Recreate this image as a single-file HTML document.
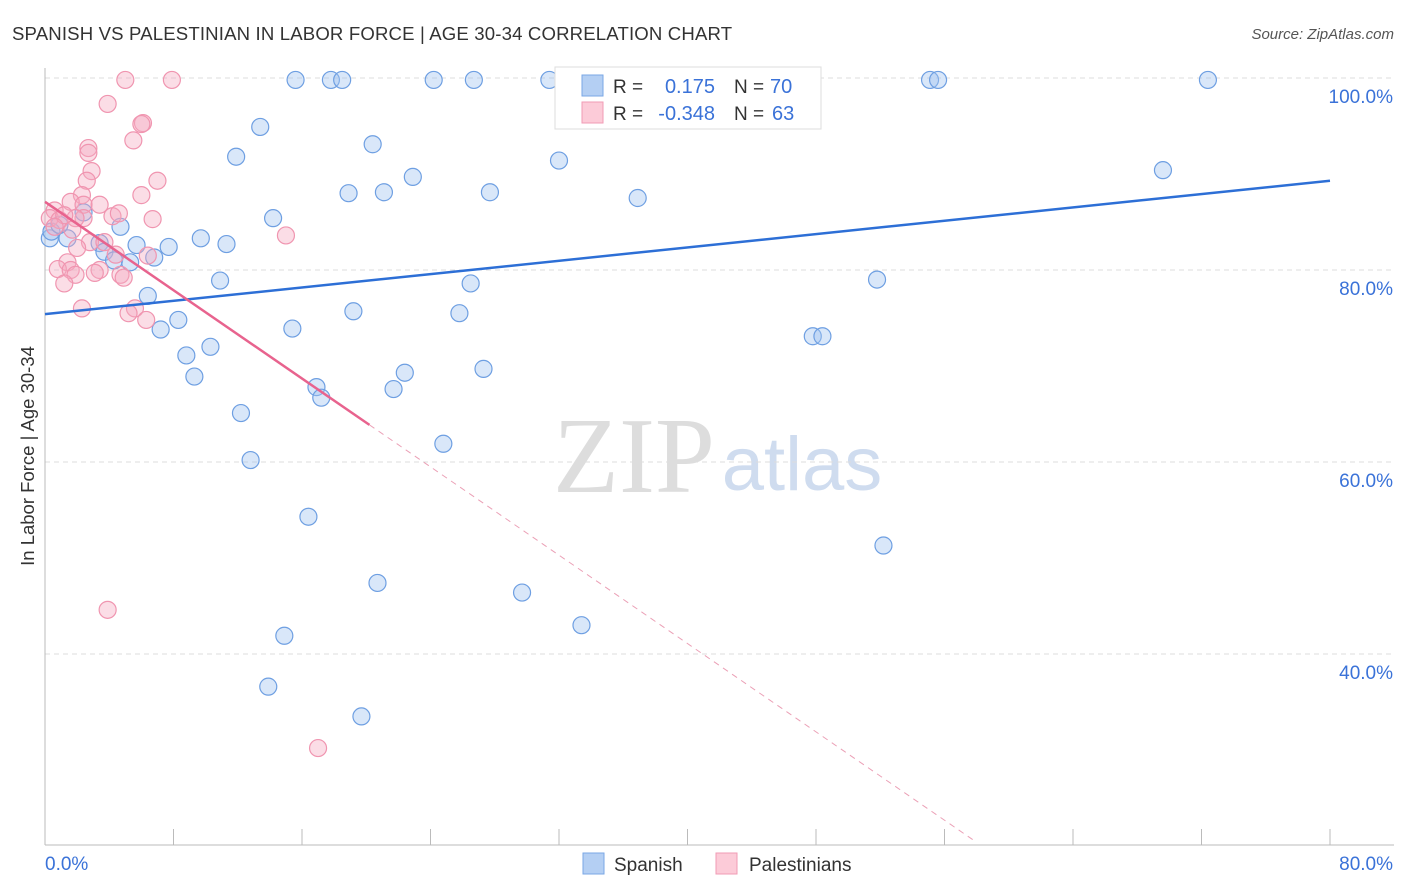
<!DOCTYPE html>
<html><head><meta charset="utf-8"><style>
body{margin:0;background:#fff;font-family:"Liberation Sans",sans-serif;}
#wrap{position:relative;width:1406px;height:892px;overflow:hidden;}
</style></head><body>
<div id="wrap">
<svg id="svg" width="1406" height="892" xmlns="http://www.w3.org/2000/svg">
<text x="12" y="40" font-size="18.6" letter-spacing="0.15" fill="#333">SPANISH VS PALESTINIAN IN LABOR FORCE | AGE 30-34 CORRELATION CHART</text>
<text x="1394" y="39" font-size="15" fill="#555" font-style="italic" text-anchor="end">Source: ZipAtlas.com</text>
<text x="34" y="456" font-size="18.5" fill="#333" text-anchor="middle" transform="rotate(-90 34 456)">In Labor Force | Age 30-34</text>
<text x="634" y="492" font-size="108" fill="#ddd" font-family="Liberation Serif,serif" text-anchor="middle">ZIP</text>
<text x="802" y="490" font-size="76" fill="#cfdcef" text-anchor="middle">atlas</text>
<g id="grid"></g><g id="pts"></g><g id="lines"></g>
<g>
<rect x="555" y="67" width="266" height="62" fill="#fff" stroke="#ddd"/>
<rect x="582" y="75" width="21" height="21" fill="#b4cff3" stroke="#7aa7e6"/>
<rect x="582" y="102" width="21" height="21" fill="#fccbd8" stroke="#f19bb5"/>
<text x="613" y="93" font-size="19" fill="#333">R =</text>
<text x="715" y="93" font-size="20" fill="#3a72d8" text-anchor="end">0.175</text>
<text x="734" y="93" font-size="19" fill="#333">N =</text>
<text x="770" y="93" font-size="20" fill="#3a72d8">70</text>
<text x="613" y="120" font-size="19" fill="#333">R =</text>
<text x="715" y="120" font-size="20" fill="#3a72d8" text-anchor="end">-0.348</text>
<text x="734" y="120" font-size="19" fill="#333">N =</text>
<text x="772" y="120" font-size="20" fill="#3a72d8">63</text>
</g>
<g>
<rect x="583" y="853" width="21" height="21" fill="#b4cff3" stroke="#7aa7e6"/>
<text x="614" y="871" font-size="19" fill="#333">Spanish</text>
<rect x="716" y="853" width="21" height="21" fill="#fccbd8" stroke="#f19bb5"/>
<text x="749" y="871" font-size="19" fill="#333">Palestinians</text>
</g>
</svg>
</div>
<script>
const xTickLabels=["0.0%","80.0%"];
const yTicks=[100,80,60,40];
const yTickLabels=["100.0%","80.0%","60.0%","40.0%"];
const spanishX=[15.6,17.8,18.5,24.2,26.7,31.4,41.9,55.1,55.6,72.4,13.4,11.9,20.4,32.0,69.6,18.9,21.1,22.9,27.7,36.9,14.2,4.7,2.4,1.4,0.3,3.4,5.7,7.7,9.7,11.3,3.7,4.3,5.3,6.8,10.9,6.4,26.5,51.8,19.2,25.8,8.3,7.2,15.4,47.8,48.4,10.3,8.8,9.3,22.4,27.3,16.9,17.2,21.7,12.2,24.8,12.8,16.4,52.2,20.7,29.7,33.4,14.9,13.9,19.7,0.4,0.9];
const spanishY=[99.8,99.8,99.8,99.8,99.8,99.8,99.8,99.8,99.8,99.8,94.9,91.8,93.1,91.4,90.4,88.0,88.1,89.7,88.1,87.5,85.4,84.5,86.0,83.3,83.3,82.8,82.6,82.4,83.3,82.7,81.9,81.0,80.8,81.3,78.9,77.3,78.6,79.0,75.7,75.5,74.8,73.8,73.9,73.1,73.1,72.0,71.1,68.9,69.3,69.7,67.8,66.7,67.6,65.1,61.9,60.2,54.3,51.3,47.4,46.4,43.0,41.9,36.6,33.5,84.0,84.7];
const palX=[5.0,7.9,3.9,6.1,6.0,5.5,2.7,2.7,2.9,2.6,7.0,6.0,2.3,1.6,2.4,3.4,6.7,4.2,4.6,2.4,0.6,0.3,0.9,1.9,1.2,0.6,15.0,2.8,3.7,2.0,4.4,6.4,1.4,0.8,1.6,3.4,3.1,1.9,4.7,4.9,1.2,5.6,2.3,5.2,6.3,3.9,17.0,1.7];
const palY=[99.8,99.8,97.3,95.3,95.2,93.5,92.7,92.2,90.3,89.3,89.3,87.8,87.8,87.1,86.8,86.8,85.3,85.6,85.9,85.4,86.2,85.4,85.2,85.4,85.7,84.5,83.6,82.9,82.9,82.3,81.6,81.5,80.8,80.1,80.0,80.0,79.7,79.5,79.5,79.2,78.6,76.0,76.0,75.5,74.8,44.6,30.2,84.2];
const spanishTrend=[75.4,89.3];
const palTrend=[87.1,20.5];
const palSolidEnd=20.2, palDashEnd=57.9;

const NS="http://www.w3.org/2000/svg";
const X=v=>45+v*1285/80, Y=v=>78+(100-v)*9.6;
function mk(tag,attrs,parent){const e=document.createElementNS(NS,tag);for(const k in attrs)e.setAttribute(k,attrs[k]);parent.appendChild(e);return e;}
const grid=document.getElementById('grid'),pts=document.getElementById('pts'),lines=document.getElementById('lines');
yTicks.forEach((t,i)=>{
 const l=mk('line',{x1:45,x2:1394,y1:Y(t),y2:Y(t),stroke:'#ddd','stroke-dasharray':'5,4'},grid);
 
 
 const tx=mk('text',{x:1393,y:Y(t)+25,'font-size':19,fill:'#3a72d8','text-anchor':'end'},grid);
 tx.textContent=yTickLabels[i];
 
 
});
const ax=mk('line',{x1:45,x2:45,y1:68,y2:845,stroke:'#bbb'},grid);


const bx=mk('line',{x1:45,x2:1394,y1:845,y2:845,stroke:'#bbb'},grid);


for(let i=0;i<=10;i++){
 const t=mk('line',{x1:X(i*8),x2:X(i*8),y1:829,y2:845,stroke:'#bbb'},grid);
 
 
}
[[0,45,'start'],[1,1393,'end']].forEach(([i,x,a])=>{
 const t=mk('text',{x:x,y:870,'font-size':19,fill:'#3a72d8','text-anchor':a},grid);
 t.textContent=xTickLabels[i];
 
 
});
spanishX.forEach((v,i)=>{
 const c=mk('circle',{cx:X(v),cy:Y(spanishY[i]),r:8.5,fill:'rgba(160,195,240,0.4)',stroke:'#6e9fe2','stroke-width':1.2},pts);
 
 
});
palX.forEach((v,i)=>{
 const c=mk('circle',{cx:X(v),cy:Y(palY[i]),r:8.5,fill:'rgba(246,170,192,0.4)',stroke:'#f095b0','stroke-width':1.2},pts);
 
 
});
const sl=mk('line',{x1:X(0),y1:Y(spanishTrend[0]),x2:X(80),y2:Y(spanishTrend[1]),stroke:'#2d6fd6','stroke-width':2.5},lines);


const pf=x=>palTrend[0]+(palTrend[1]-palTrend[0])*x/palDashEnd;
const ps=mk('line',{x1:X(0),y1:Y(pf(0)),x2:X(palSolidEnd),y2:Y(pf(palSolidEnd)),stroke:'#e8638e','stroke-width':2.5},lines);


const pd=mk('line',{x1:X(palSolidEnd),y1:Y(pf(palSolidEnd)),x2:X(palDashEnd),y2:Y(pf(palDashEnd)),stroke:'#eba0b6','stroke-width':1,'stroke-dasharray':'6,5'},lines);


</script>
</body></html>
